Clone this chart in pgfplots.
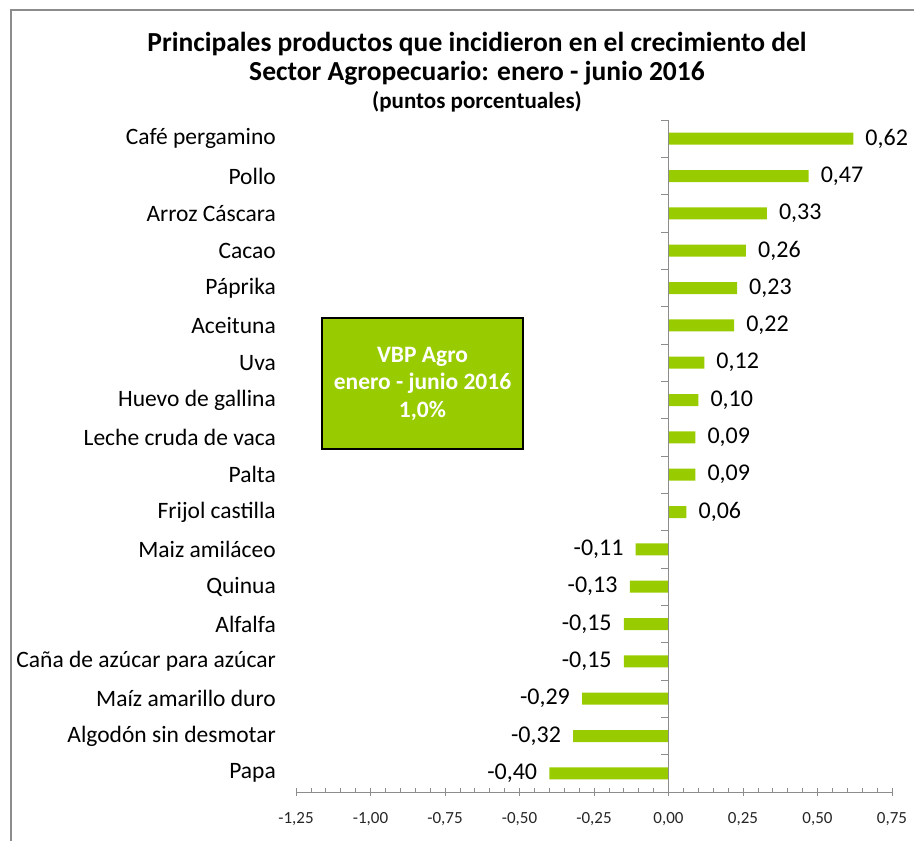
\documentclass[border=0pt]{standalone}
\usepackage{pgfplots}
\pgfplotsset{compat=1.18}
\usepackage{fontspec}
\setmainfont{Carlito}
\definecolor{bargreen}{HTML}{99CC00}
\definecolor{axgray}{HTML}{8C8C8C}
\begin{document}
\begin{tikzpicture}[x=1pt,y=1pt]
\path[use as bounding box] (0,0) rectangle (914,841);
\draw[axgray, line width=1.5pt] (11,0) -- (11,831) -- (914,831);
\node[font=\fontsize{27.5}{32}\selectfont\bfseries] at (477,841-44) {Principales productos que incidieron en el crecimiento del};
\node[font=\fontsize{27.5}{32}\selectfont\bfseries] at (477,841-73) {Sector Agropecuario: enero - junio 2016};
\node[font=\fontsize{23}{27}\selectfont\bfseries] at (477,841-102) {(puntos porcentuales)};
\begin{axis}[
  at={(296pt,49pt)}, anchor=south west,
  scale only axis, width=596pt, height=672pt,
  xbar, bar width=12pt,
  xmin=-1.25, xmax=0.75,
  ymin=-0.5, ymax=17.5, y dir=reverse,
  axis x line=bottom, axis y line=none,
  x axis line style={axgray, -, line width=0.8pt},
  xtick={-1.25,-1,-0.75,-0.5,-0.25,0,0.25,0.5,0.75},
  xticklabels={{-1,25},{-1,00},{-0,75},{-0,50},{-0,25},{0,00},{0,25},{0,50},{0,75}},
  minor x tick num=4,
  tick align=center,
  major tick length=8pt, minor tick length=4pt,
  every tick/.style={axgray, line width=0.8pt},
  minor x tick style={yshift=2pt},
  xticklabel style={font=\fontsize{17}{20}\selectfont, text=black!85, yshift=-13pt},
  ytick=\empty,
  clip=false,
  nodes near coords,
  nodes near coords align=horizontal,
  every node near coord/.append style={font=\fontsize{24}{28}\selectfont, text=black, inner xsep=12pt},
  /pgf/number format/.cd, fixed, fixed zerofill, precision=2, use comma, assume math mode=true,
]
\addplot[fill=bargreen, draw=none] table[x=v, y=i] {
i v
0 0.62
1 0.47
2 0.33
3 0.26
4 0.23
5 0.22
6 0.12
7 0.10
8 0.09
9 0.09
10 0.06
11 -0.11
12 -0.13
13 -0.15
14 -0.15
15 -0.29
16 -0.32
17 -0.40
};
\draw[axgray, line width=0.8pt] (axis cs:0,-0.5) -- (axis cs:0,17.5);
\pgfplotsinvokeforeach{0,...,18}{
  \draw[axgray, line width=0.8pt] (axis cs:0,#1-0.5) -- ([xshift=-8pt]axis cs:0,#1-0.5);
}
\end{axis}
% category labels
\foreach \lab [count=\i from 0] in {Café pergamino,Pollo,Arroz Cáscara,Cacao,Páprika,Aceituna,Uva,Huevo de gallina,Leche cruda de vaca,Palta,Frijol castilla,Maiz amiláceo,Quinua,Alfalfa,Caña de azúcar para azúcar,Maíz amarillo duro,Algodón sin desmotar,Papa}{
  \node[anchor=east, font=\fontsize{23.5}{27}\selectfont, inner sep=0pt] at (276, 841-138.7-\i*37.33) {\lab};
}
\node[draw=black, line width=2pt, fill=bargreen, minimum width=201pt, minimum height=131pt, align=center, text=white, font=\fontsize{23.5}{27.5}\selectfont\bfseries] at (422.5,841-383.5) {VBP Agro\\enero - junio 2016\\1,0\%};
\end{tikzpicture}
\end{document}
